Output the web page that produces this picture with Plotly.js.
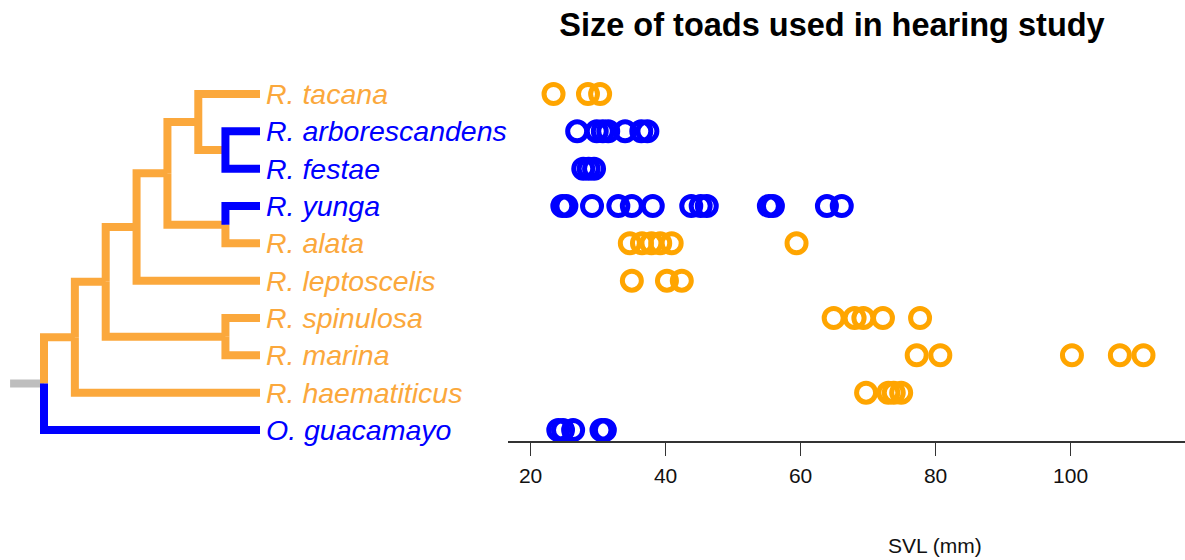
<!DOCTYPE html>
<html>
<head>
<meta charset="utf-8">
<script src="https://cdn.plot.ly/plotly-3.0.1.min.js"></script>
<style>html,body{margin:0;padding:0;background:#fff;}#chart{width:1185px;height:560px;}</style>
</head>
<body>
<div id="chart"></div>
<script>
// ---- Data ----
// species, top to bottom
const species = ["R. tacana", "R. arborescandens", "R. festae", "R. yunga", "R. alata",
  "R. leptoscelis", "R. spinulosa", "R. marina", "R. haematiticus", "O. guacamayo"];
// tip state: 0 = orange, 1 = blue
const tipState = [0, 1, 1, 1, 0, 0, 0, 0, 0, 1];

// SVL (mm) of each measured toad
const svl_tacana = [23.4, 28.5, 30.3];
const svl_arborescandens = [26.9, 29.8, 30.7, 31.5, 34.0, 36.4, 37.3];
const svl_festae = [27.8, 28.6, 29.4];
const svl_yunga = [24.7, 25.3, 29.1, 33.0, 35.0, 38.1, 43.8, 45.2, 46.1, 55.3, 55.9, 63.9, 66.1];
const svl_alata = [34.7, 36.5, 37.9, 39.2, 40.9, 59.4];
const svl_leptoscelis = [35.0, 40.2, 42.4];
const svl_spinulosa = [64.9, 68.0, 69.3, 72.2, 77.7];
const svl_marina = [77.2, 80.7, 100.2, 107.3, 110.8];
const svl_haematiticus = [69.7, 73.0, 73.8, 74.9];
const svl_guacamayo = [24.1, 24.8, 26.3, 30.5, 31.0];
const svlBySpecies = [svl_tacana, svl_arborescandens, svl_festae, svl_yunga, svl_alata,
  svl_leptoscelis, svl_spinulosa, svl_marina, svl_haematiticus, svl_guacamayo];

// Tree: internal nodes (name, depth, children). Children: tip index (number) or node name.
const nodeNames  = ["root", "n1", "n2", "n3", "n4", "n5", "n6", "nYA", "nSM"];
const nodeDepth  = [0, 1/7, 2/7, 3/7, 4/7, 5/7, 0.84, 0.84, 0.84];
const nodeKids   = [["n1", 9], ["n2", 8], ["n3", "nSM"], ["n4", 5], ["n5", "nYA"],
                    [0, "n6"], [1, 2], [3, 4], [6, 7]];
// state of the edge leading to each internal node (0 orange, 1 blue)
const nodeState  = [0, 0, 0, 0, 0, 0, 0, 0, 0];
const tipDepth = 1;
const rootEdge = 0.157;

const xTicks = [20, 40, 60, 80, 100];
const xTitle = "SVL (mm)";
const chartTitle = "Size of toads used in hearing study";

// ---- Styles ----
const ORANGE_TREE = "#FBA83C";
const BLUE = "#0000FF";
const ORANGE_PT = "#FFA500";
const FONT = "Liberation Sans, Arial, Helvetica, sans-serif";

// ---- Build ----
const nTips = species.length;
const rowY = i => (nTips - 1) - i;   // top row highest y
const nodeIdx = {};
nodeNames.forEach((n, i) => nodeIdx[n] = i);
const nodeY = {};
function yOf(k) {
  if (typeof k === "number") return rowY(k);
  if (nodeY[k] !== undefined) return nodeY[k];
  const kids = nodeKids[nodeIdx[k]];
  const v = kids.map(yOf).reduce((a, b) => a + b, 0) / kids.length;
  nodeY[k] = v;
  return v;
}
yOf("root");
const depthOf = k => typeof k === "number" ? tipDepth : nodeDepth[nodeIdx[k]];
const stateOf = k => typeof k === "number" ? tipState[k] : nodeState[nodeIdx[k]];

const seg = {0: {x: [], y: []}, 1: {x: [], y: []}};
nodeNames.forEach((n, i) => {
  const px = nodeDepth[i], py = yOf(n);
  nodeKids[i].forEach(k => {
    const s = seg[stateOf(k)];
    s.x.push(px, px, depthOf(k), null);
    s.y.push(py, yOf(k), yOf(k), null);
  });
});

const traces = [];
traces.push({x: [-rootEdge, 0], y: [yOf("root"), yOf("root")], xaxis: "x2", yaxis: "y",
  mode: "lines", line: {color: "#BEBEBE", width: 8}, hoverinfo: "skip", cliponaxis: false});
traces.push({x: seg[0].x, y: seg[0].y, xaxis: "x2", yaxis: "y", mode: "lines",
  line: {color: ORANGE_TREE, width: 8}, hoverinfo: "skip", cliponaxis: false});
traces.push({x: seg[1].x, y: seg[1].y, xaxis: "x2", yaxis: "y", mode: "lines",
  line: {color: BLUE, width: 8}, hoverinfo: "skip", cliponaxis: false});

species.forEach((sp, i) => {
  const vals = svlBySpecies[i];
  traces.push({
    x: vals, y: vals.map(() => rowY(i)), xaxis: "x", yaxis: "y",
    mode: "markers", name: sp,
    marker: {symbol: "circle-open", size: 19, color: tipState[i] ? BLUE : ORANGE_PT,
             line: {width: 5, color: tipState[i] ? BLUE : ORANGE_PT}},
    cliponaxis: false
  });
});

// axis geometry
const W = 1185, H = 560;
const rowPx = 37.33, axisPx = 441, firstRowPx = 94;
const yLo = -(axisPx - (firstRowPx + rowPx * (nTips - 1))) / rowPx;
const yHi = yLo + axisPx / rowPx;
const treeW = 500, tipPx = 260, rootPx = 44;
const unitPx = (tipPx - rootPx) / tipDepth;
const x2Lo = -rootPx / unitPx, x2Hi = x2Lo + treeW / unitPx;
const xStartPx = 508, v20Px = 530.6, pxPerMm = 6.75;
const xLo = 20 - (v20Px - xStartPx) / pxPerMm;
const xHi = 20 + (W - v20Px) / pxPerMm;

const annotations = species.map((sp, i) => ({
  xref: "x2", yref: "y", x: tipDepth, y: rowY(i), text: "<i>" + sp + "</i>",
  showarrow: false, xanchor: "left", yanchor: "middle", xshift: 4,
  font: {family: FONT, size: 28.5, color: tipState[i] ? BLUE : ORANGE_TREE}
}));
// x-axis title, centred like the reference
annotations.push({xref: "paper", yref: "paper", x: 935 / W, y: 1 - 545 / H,
  text: xTitle, showarrow: false, xanchor: "center", yanchor: "middle",
  font: {family: FONT, size: 21, color: "#111"}});

const layout = {
  width: W, height: H,
  margin: {l: 0, r: 0, t: 0, b: 0},
  paper_bgcolor: "#fff", plot_bgcolor: "rgba(0,0,0,0)",
  showlegend: false,
  font: {family: FONT, color: "#000"},
  title: {text: "<b>" + chartTitle + "</b>", x: 832 / W, xanchor: "center",
    xref: "paper", y: 1 - 25 / H, yref: "container", yanchor: "middle",
    font: {family: FONT, size: 32.5, color: "#000"}},
  xaxis: {domain: [xStartPx / W, 1], range: [xLo, xHi], anchor: "y",
    showline: true, linecolor: "#333", linewidth: 1.5, ticks: "outside", ticklen: 13,
    tickwidth: 1.5, tickcolor: "#333", tickvals: xTicks, ticktext: xTicks.map(String),
    showgrid: false, zeroline: false, tickfont: {family: FONT, size: 21, color: "#111"},
    ticklabelstandoff: 2},
  xaxis2: {domain: [0, treeW / W], range: [x2Lo, x2Hi], anchor: "y", visible: false,
    showgrid: false, zeroline: false},
  yaxis: {domain: [(H - axisPx) / H, 1], range: [yLo, yHi], visible: false,
    showgrid: false, zeroline: false},
  annotations: annotations
};

Plotly.newPlot("chart", traces, layout, {displayModeBar: false, staticPlot: true});
</script>
</body>
</html>
